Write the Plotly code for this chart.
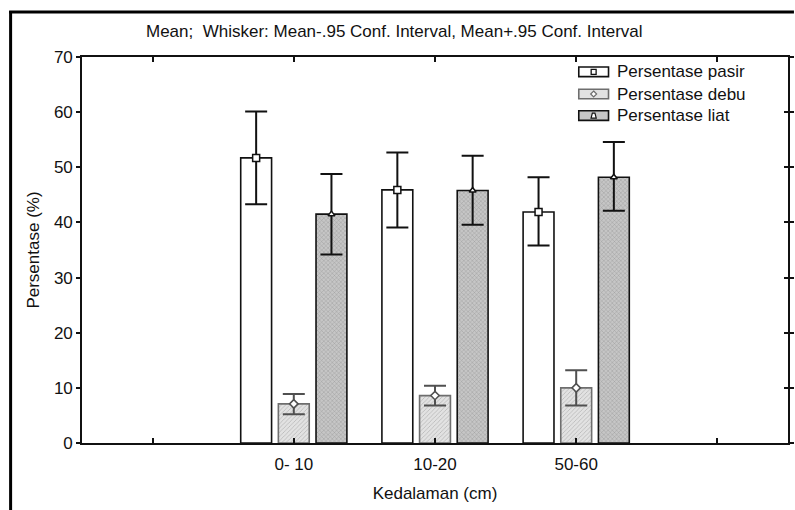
import plotly.graph_objects as go

# Depth classes (outer slots left empty, as in a 5-slot category axis)
tick_labels = ["", "0- 10", "10-20", "50-60", ""]
depth_pos = [1, 2, 3]

# Means and 95% confidence limits (%)
pasir_mean = [51.7, 45.9, 41.9]
pasir_hi = [60.1, 52.7, 48.2]
pasir_lo = [43.3, 39.1, 35.8]

debu_mean = [7.1, 8.6, 10.0]
debu_hi = [8.9, 10.4, 13.2]
debu_lo = [5.2, 6.8, 6.8]

liat_mean = [41.5, 45.8, 48.2]
liat_hi = [48.8, 52.1, 54.6]
liat_lo = [34.2, 39.6, 42.1]

series = [
    dict(name="Persentase pasir", mean=pasir_mean, hi=pasir_hi, lo=pasir_lo,
         bg="#ffffff", fg="#ffffff", pshape="", edge="#111111", whisker="#111111",
         symbol="square", msize=7),
    dict(name="Persentase debu", mean=debu_mean, hi=debu_hi, lo=debu_lo,
         bg="#e2e2e2", fg="#b4b4b4", pshape="/", edge="#6e6e6e", whisker="#505050",
         symbol="diamond", msize=6.5),
    dict(name="Persentase liat", mean=liat_mean, hi=liat_hi, lo=liat_lo,
         bg="#c6c6c6", fg="#959595", pshape="x", edge="#111111", whisker="#111111",
         symbol="triangle-up", msize=6),
]

BARGAP = 0.2
GROUPGAP = 0.18
slot = (1 - BARGAP) / len(series)

fig = go.Figure()

for s in series:
    fig.add_trace(go.Bar(
        x=depth_pos, y=s["mean"], name=s["name"], showlegend=False,
        marker=dict(
            color=s["bg"],
            line=dict(color=s["edge"], width=1.6),
            pattern=dict(shape=s["pshape"], bgcolor=s["bg"], fgcolor=s["fg"],
                         size=3, solidity=0.25, fillmode="replace"),
        ),
        error_y=dict(
            type="data", symmetric=False,
            array=[h - m for h, m in zip(s["hi"], s["mean"])],
            arrayminus=[m - l for m, l in zip(s["mean"], s["lo"])],
            color=s["whisker"], thickness=2, width=11,
        ),
    ))

# Mean markers sitting on top of each bar
for i, s in enumerate(series):
    off = (i - (len(series) - 1) / 2) * slot
    fig.add_trace(go.Scatter(
        x=[p + off for p in depth_pos], y=s["mean"], mode="markers",
        showlegend=False, hoverinfo="skip",
        marker=dict(symbol=s["symbol"], size=s["msize"], color="white",
                    line=dict(color=s["whisker"], width=1.5)),
    ))

# Helper trace for the right-hand tick marks
fig.add_trace(go.Scatter(x=[None], y=[None], yaxis="y2", showlegend=False,
                         hoverinfo="skip"))

# Plot-area geometry in pixels (used for the hand-drawn legend and frame)
W, H = 795, 510
L, R, T, B = 82, 1, 57, 67
pw, ph = W - L - R, H - T - B


def px(x):
    return (x - L) / pw


def py(y):
    return (H - B - y) / ph


shapes = []
annotations = []
FONT = "Liberation Sans, Arial"

# Legend: swatch boxes, inner symbols, labels
legend_rows = [71.8, 94.0, 115.6]
for s, yc in zip(series, legend_rows):
    x0, x1 = 583, 613
    y0, y1 = yc - 4.8, yc + 4.8
    shapes.append(dict(
        type="rect", xref="paper", yref="paper",
        x0=px(x0), x1=px(x1), y0=py(y1), y1=py(y0),
        fillcolor=s["bg"], line=dict(color=s["edge"], width=1.6), layer="above",
    ))
    cx = (x0 + x1) / 2
    if s["symbol"] == "square":
        shapes.append(dict(type="rect", xref="paper", yref="paper",
                           x0=px(cx - 2.5), x1=px(cx + 2.5),
                           y0=py(yc + 2.5), y1=py(yc - 2.5),
                           fillcolor="white", line=dict(color="#111", width=1.3),
                           layer="above"))
    elif s["symbol"] == "diamond":
        pts = [(cx, yc - 3), (cx + 3, yc), (cx, yc + 3), (cx - 3, yc)]
        path = "M" + " L".join(f"{px(a)},{py(b)}" for a, b in pts) + " Z"
        shapes.append(dict(type="path", xref="paper", yref="paper", path=path,
                           fillcolor="white", line=dict(color="#6e6e6e", width=1.2),
                           layer="above"))
    else:
        pts = [(cx - 1.3, yc - 2.5), (cx + 1.3, yc - 2.5), (cx + 2.6, yc + 2.5),
               (cx - 2.6, yc + 2.5)]
        path = "M" + " L".join(f"{px(a)},{py(b)}" for a, b in pts) + " Z"
        shapes.append(dict(type="path", xref="paper", yref="paper", path=path,
                           fillcolor="white", line=dict(color="#111", width=1.2),
                           layer="above"))
    annotations.append(dict(
        xref="paper", yref="paper", x=px(620), y=py(yc), xanchor="left",
        yanchor="middle", text=s["name"], showarrow=False,
        font=dict(family=FONT, size=17, color="#111"),
    ))

# Outer frame around the whole graph
frame = dict(color="#000", width=3)
shapes.append(dict(type="line", xref="paper", yref="paper",
                   x0=px(10), x1=px(10), y0=py(11), y1=py(515), line=frame,
                   layer="above"))
shapes.append(dict(type="line", xref="paper", yref="paper",
                   x0=px(8.5), x1=px(800), y0=py(12), y1=py(12), line=frame,
                   layer="above"))

# Header line
annotations.append(dict(
    xref="paper", yref="paper", x=px(397), y=py(32), xanchor="center",
    yanchor="middle", showarrow=False,
    text="Mean;  Whisker: Mean-.95 Conf. Interval, Mean+.95 Conf. Interval",
    font=dict(family=FONT, size=17, color="#111"),
))

axis_font = dict(family=FONT, size=17, color="#111")
tick_font = dict(family=FONT, size=17, color="#111")

fig.update_layout(
    width=W, height=H,
    margin=dict(l=L, r=R, t=T, b=B, pad=0),
    paper_bgcolor="white", plot_bgcolor="white",
    barmode="group", bargap=BARGAP, bargroupgap=GROUPGAP,
    shapes=shapes, annotations=annotations,
    font=axis_font,
    xaxis=dict(
        range=[-0.5, 4.5], tickmode="array", tickvals=list(range(len(tick_labels))),
        ticktext=tick_labels, ticks="inside", ticklen=5, tickwidth=1.5,
        tickcolor="#111", showline=True, linecolor="#111", linewidth=1.6,
        mirror="ticks", showgrid=False, zeroline=False, layer="above traces",
        ticklabelstandoff=5,
        title=dict(text="Kedalaman (cm)", font=axis_font, standoff=14),
        tickfont=tick_font,
    ),
    yaxis=dict(
        range=[0, 70], dtick=10, ticks="outside", ticklen=4, tickwidth=1.5,
        tickcolor="#111", showline=True, linecolor="#111", linewidth=1.6,
        mirror="ticks", showgrid=False, zeroline=False,
        title=dict(text="Persentase (%)", font=axis_font, standoff=10),
        tickfont=tick_font,
    ),
    yaxis2=dict(
        overlaying="y", side="right", range=[0, 70], dtick=10, ticks="inside",
        ticklen=4, tickwidth=1.5, tickcolor="#111", showticklabels=False,
        showline=False, showgrid=False, zeroline=False,
    ),
)

fig.write_html("out.html", config={"displayModeBar": False})
